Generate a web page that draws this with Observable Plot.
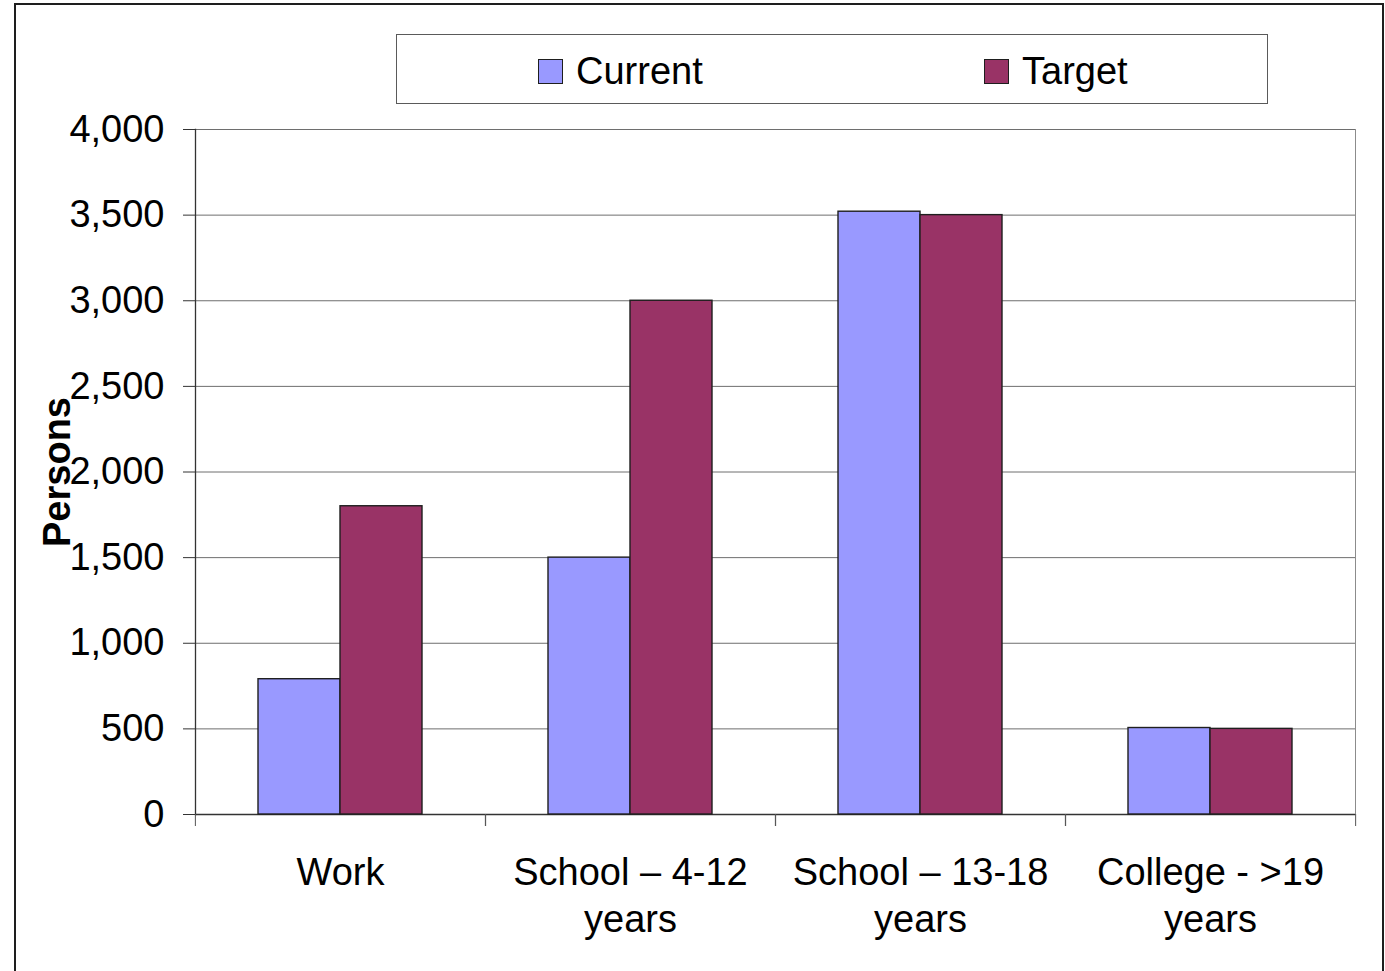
<!DOCTYPE html>
<html>
<head>
<meta charset="utf-8">
<script src="https://cdn.jsdelivr.net/npm/d3@7"></script>
<script src="https://cdn.jsdelivr.net/npm/@observablehq/plot@0.6"></script>
<style>
  html, body { margin: 0; padding: 0; background: #fff; }
  #wrap { position: relative; width: 1385px; height: 971px; overflow: hidden; background: #fff;
          font-family: "Liberation Sans", Arial, Helvetica, sans-serif; }
  #outer { position: absolute; left: 14px; top: 3px; width: 1366px; height: 1100px;
           border: 2px solid #1e1e1e; }
  #chart { position: absolute; left: 0; top: 0; }
  #legend { position: absolute; left: 396px; top: 34px; width: 872px; height: 70px;
            box-sizing: border-box; border: 1.5px solid #5a5a5a; background: #fff; }
  .item { position: absolute; top: 2px; height: 100%; display: flex; align-items: center;
          font-size: 38px; color: #000; }
  .swatch { width: 25px; height: 25px; box-sizing: border-box; border: 1.3px solid #1e1e1e;
            margin-right: 13px; }
</style>
</head>
<body>
<div id="wrap">
  <div id="outer"></div>
  <div id="chart"></div>
  <div id="legend"></div>
</div>
<script>
// Categories, series and values
const categories = ["Work", "School – 4-12 years", "School – 13-18 years", "College - >19 years"];
const categoryLabels = ["Work", "School – 4-12\nyears", "School – 13-18\nyears", "College - >19\nyears"];
const series = ["Current", "Target"];
const currentValues = [790, 1500, 3520, 505];
const targetValues = [1800, 3000, 3500, 500];
const seriesColors = ["#9999FF", "#993366"];
const yTicks = [0, 500, 1000, 1500, 2000, 2500, 3000, 3500, 4000];

// Long-format table for the grouped bars
const valuesBySeries = [currentValues, targetValues];
const rows = categories.flatMap((category, i) =>
  series.map((s, j) => ({category, series: s, value: valuesBySeries[j][i]}))
);
const labelOf = new Map(categories.map((c, i) => [c, categoryLabels[i]]));

// Layout
const W = 1385, H = 971;
const marginLeft = 194, marginRight = 30, marginTop = 129, marginBottom = 157;
const band = (W - marginLeft - marginRight) / categories.length;

const chart = Plot.plot({
  width: W,
  height: H,
  marginLeft, marginRight, marginTop, marginBottom,
  style: {
    fontFamily: "'Liberation Sans', Arial, Helvetica, sans-serif",
    fontSize: "38px",
    color: "#000",
    background: "transparent",
    overflow: "visible"
  },
  fx: {domain: categories, padding: 0},
  x: {domain: series, paddingInner: 0, paddingOuter: 0.7485, axis: null},
  y: {domain: [0, 4000]},
  color: {domain: series, range: seriesColors},
  marks: [
    Plot.gridY(yTicks.slice(1), {stroke: "#6e6e6e", strokeOpacity: 1, strokeWidth: 1}),
    Plot.ruleY([0], {stroke: "#333", strokeWidth: 1.3}),
    Plot.frame({anchor: "left", facetAnchor: "left", stroke: "#333", strokeWidth: 1.3}),
    Plot.frame({anchor: "right", facetAnchor: "right", stroke: "#8c8c8c", strokeWidth: 1}),
    Plot.barY(rows, {
      fx: "category", x: "series", y: "value", fill: "series",
      stroke: "#1f1f1f", strokeWidth: 1.4, inset: 0
    }),
    Plot.axisY(yTicks, {
      tickSize: 12, tickPadding: 19, tickFormat: d3.format(","),
      stroke: "#333", label: null, fontSize: 38
    }),
    // category boundary ticks below the baseline
    Plot.axisFx({anchor: "bottom", tickSize: 12, tickFormat: () => "", dx: -band / 2, stroke: "#555", label: null}),
    Plot.axisFx([categories[categories.length - 1]], {anchor: "bottom", tickSize: 12, tickFormat: () => "", dx: band / 2, stroke: "#555", label: null}),
    // category labels
    Plot.axisFx({
      anchor: "bottom", tickSize: 0, tickPadding: 37,
      tickFormat: (d) => labelOf.get(d), lineHeight: 1.24, fontSize: 38, label: null
    }),
    Plot.text(["Persons"], {
      frameAnchor: "left", facetAnchor: "left", rotate: -90, dx: -126,
      textAnchor: "middle", lineAnchor: "bottom", fontWeight: "bold", fontSize: 38, fill: "#000"
    })
  ]
});
document.getElementById("chart").appendChild(chart);

// Legend
const legend = document.getElementById("legend");
const legendLeft = [141, 587];
series.forEach((s, i) => {
  const item = document.createElement("div");
  item.className = "item";
  item.style.left = legendLeft[i] + "px";
  const sw = document.createElement("div");
  sw.className = "swatch";
  sw.style.background = seriesColors[i];
  const label = document.createElement("span");
  label.textContent = s;
  item.appendChild(sw);
  item.appendChild(label);
  legend.appendChild(item);
});
</script>
</body>
</html>
